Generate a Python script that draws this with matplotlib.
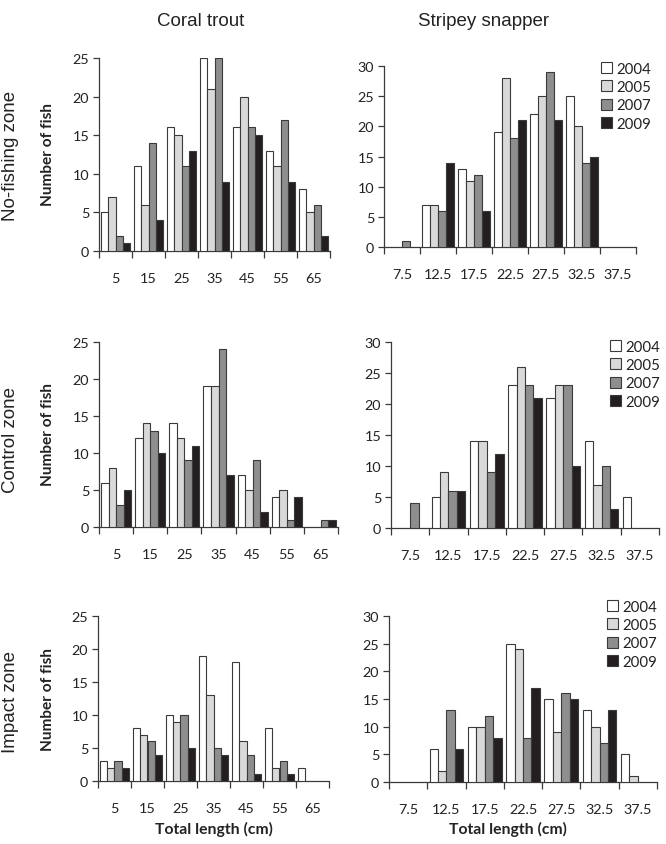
import matplotlib
matplotlib.use("Agg")
import matplotlib.pyplot as plt
from matplotlib.patches import Patch
import numpy as np

# ---------------- data ----------------
years = ["2004", "2005", "2007", "2009"]
trout_bins = ["5", "15", "25", "35", "45", "55", "65"]
snapper_bins = ["7.5", "12.5", "17.5", "22.5", "27.5", "32.5", "37.5"]
zones = ["No-fishing zone", "Control zone", "Impact zone"]

trout_nofishing = {
    "2004": [5, 11, 16, 25, 16, 13, 8],
    "2005": [7, 6, 15, 21, 20, 11, 5],
    "2007": [2, 14, 11, 25, 16, 17, 6],
    "2009": [1, 4, 13, 9, 15, 9, 2],
}
snapper_nofishing = {
    "2004": [0, 7, 13, 19, 22, 25, 0],
    "2005": [0, 7, 11, 28, 25, 20, 0],
    "2007": [1, 6, 12, 18, 29, 14, 0],
    "2009": [0, 14, 6, 21, 21, 15, 0],
}
trout_control = {
    "2004": [6, 12, 14, 19, 7, 4, 0],
    "2005": [8, 14, 12, 19, 5, 5, 0],
    "2007": [3, 13, 9, 24, 9, 1, 1],
    "2009": [5, 10, 11, 7, 2, 4, 1],
}
snapper_control = {
    "2004": [0, 5, 14, 23, 21, 14, 5],
    "2005": [0, 9, 14, 26, 23, 7, 0],
    "2007": [4, 6, 9, 23, 23, 10, 0],
    "2009": [0, 6, 12, 21, 10, 3, 0],
}
trout_impact = {
    "2004": [3, 8, 10, 19, 18, 8, 2],
    "2005": [2, 7, 9, 13, 6, 2, 0],
    "2007": [3, 6, 10, 5, 4, 3, 0],
    "2009": [2, 4, 5, 4, 1, 1, 0],
}
snapper_impact = {
    "2004": [0, 6, 10, 25, 15, 13, 5],
    "2005": [0, 2, 10, 24, 9, 10, 1],
    "2007": [0, 13, 12, 8, 16, 7, 0],
    "2009": [0, 6, 8, 17, 15, 13, 0],
}

# ---------------- style ----------------
W, H = 666, 845
colors = {"2004": "#ffffff", "2005": "#d9d9d9", "2007": "#8e8e8e", "2009": "#231f20"}
edge = "#3a3a3a"
txtc = "#222222"
tick_font = ["Lato", "DejaVu Sans"]
title_font = ["Liberation Sans Narrow", "Liberation Sans", "DejaVu Sans"]

fig = plt.figure(figsize=(W / 100, H / 100), dpi=100)
fig.patch.set_facecolor("white")
renderer = fig.canvas.get_renderer()


def fit_size(text, family, weight, target_px, base=10.0):
    t = fig.text(0, 0, text, family=family, fontweight=weight, fontsize=base)
    w = t.get_window_extent(renderer).width
    t.remove()
    return base * target_px / w


tick_size = fit_size("12.5", tick_font, "normal", 28.5)
leg_size = fit_size("2004", tick_font, "normal", 35)
ylab_size = fit_size("Number of fish", tick_font, "bold", 103)
xlab_size = fit_size("Total length (cm)", tick_font, "bold", 118)
title_size = fit_size("Coral trout", title_font, "normal", 87)
row_size = fit_size("No-fishing zone", title_font, "normal", 132)
head_size = (title_size + row_size) / 2


def px_axes(x0, x1, ytop, ybot):
    return fig.add_axes([x0 / W, 1 - ybot / H, (x1 - x0) / W, (ybot - ytop) / H])


def draw(ax, data, cats, ymax):
    n = len(cats)
    x = np.arange(n)
    bw = 0.22
    offs = [-1.5 * bw, -0.5 * bw, 0.5 * bw, 1.5 * bw]
    for yr, off in zip(years, offs):
        vals = np.array(data[yr])
        mask = vals > 0
        ax.bar(x[mask] + off, vals[mask], width=bw, color=colors[yr],
               edgecolor=edge, linewidth=0.8, zorder=3)
    ax.set_xlim(-0.5, n - 0.5)
    ax.set_ylim(0, ymax)
    ax.set_yticks(np.arange(0, ymax + 1, 5))
    ax.set_xticks(np.arange(n + 1) - 0.5)
    ax.set_xticklabels([])
    ax.set_xticks(x, minor=True)
    ax.set_xticklabels(cats, minor=True)
    ax.tick_params(axis="x", which="major", length=5, width=0.9, color=edge, direction="out")
    ax.tick_params(axis="x", which="minor", length=0, pad=15)
    ax.tick_params(axis="y", length=4, width=0.9, color=edge, direction="out", pad=3)
    for lab in ax.get_xticklabels(minor=True) + ax.get_yticklabels():
        lab.set_family(tick_font)
        lab.set_fontsize(tick_size)
        lab.set_color(txtc)
    for s in ["top", "right"]:
        ax.spines[s].set_visible(False)
    for s in ["left", "bottom"]:
        ax.spines[s].set_color(edge)
        ax.spines[s].set_linewidth(0.9)


# axes positions (pixels)
axL1 = px_axes(99, 330, 59, 252)
axR1 = px_axes(384, 636, 67, 248)
axL2 = px_axes(99, 338, 343, 528)
axR2 = px_axes(391, 659, 343, 529)
axL3 = px_axes(98, 329, 617, 782)
axR3 = px_axes(389, 657, 617, 783)

draw(axL1, trout_nofishing, trout_bins, 25)
draw(axR1, snapper_nofishing, snapper_bins, 30)
draw(axL2, trout_control, trout_bins, 25)
draw(axR2, snapper_control, snapper_bins, 30)
draw(axL3, trout_impact, trout_bins, 25)
draw(axR3, snapper_impact, snapper_bins, 30)

# y labels
for yc in [155, 435, 700]:
    fig.text(48 / W, 1 - yc / H, "Number of fish", rotation=90, ha="center", va="center",
             fontsize=ylab_size, fontweight="bold", family=tick_font, color=txtc)

# row labels
for zone, yc in zip(zones, [156, 440, 702]):
    fig.text(11 / W, 1 - yc / H, zone, rotation=90, ha="center", va="center",
             fontsize=head_size, family=title_font, color=txtc)

# column titles
fig.text(201 / W, 1 - 21 / H, "Coral trout", ha="center", va="center",
         fontsize=head_size, family=title_font, color=txtc)
fig.text(484 / W, 1 - 21 / H, "Stripey snapper", ha="center", va="center",
         fontsize=head_size, family=title_font, color=txtc)

# x labels
fig.text(214 / W, 1 - 829 / H, "Total length (cm)", ha="center", va="center",
         fontsize=xlab_size, fontweight="bold", family=tick_font, color=txtc)
fig.text(508 / W, 1 - 829 / H, "Total length (cm)", ha="center", va="center",
         fontsize=xlab_size, fontweight="bold", family=tick_font, color=txtc)

# legends
handles = [Patch(facecolor=colors[y], edgecolor=edge, linewidth=0.8) for y in years]
for (lx, ly) in [(601, 63), (610, 341), (607, 601)]:
    leg = fig.legend(handles, years, loc="upper left",
                     bbox_to_anchor=(lx / W, 1 - ly / H), bbox_transform=fig.transFigure,
                     frameon=False, borderpad=0, borderaxespad=0,
                     handlelength=0.75, handleheight=0.75, handletextpad=0.25,
                     labelspacing=0.28, prop={"family": tick_font, "size": leg_size})
    for t in leg.get_texts():
        t.set_color(txtc)

fig.savefig("out.png", dpi=100, facecolor="white")
